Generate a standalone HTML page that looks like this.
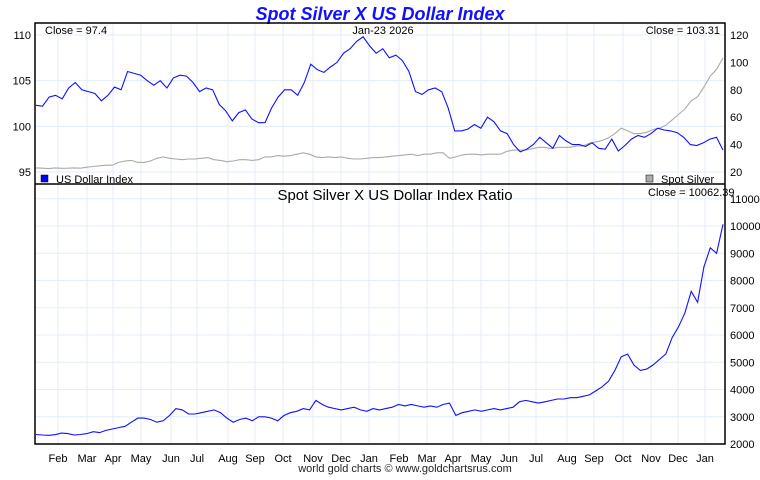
<!DOCTYPE html>
<html><head><meta charset="utf-8"><style>
body{margin:0;background:#fff;}
svg text{font-family:"Liberation Sans",sans-serif;}
</style></head><body>
<svg id="c" width="760" height="475" xmlns="http://www.w3.org/2000/svg">
<text x="380" y="20" text-anchor="middle" font-size="18" font-weight="bold" font-style="italic" fill="#1010ff">Spot Silver X US Dollar Index</text>
<g id="grid"></g>
<g id="series"></g>
<rect x="35" y="23" width="690" height="421" fill="none" stroke="#000" stroke-width="1.5"/>
<line x1="35" y1="184" x2="725" y2="184" stroke="#000" stroke-width="1.5"/>
<g id="axes" font-size="11"></g>
<text x="45" y="34" font-size="11">Close = 97.4</text>
<text x="383" y="34" font-size="11" text-anchor="middle">Jan-23  2026</text>
<text x="720" y="34" font-size="11" text-anchor="end">Close = 103.31</text>
<rect x="41" y="175" width="7" height="7" fill="#0000ff" stroke="#000" stroke-width="0.5"/>
<text x="56" y="183" font-size="11">US Dollar Index</text>
<rect x="646" y="175" width="7" height="7" fill="#aaa" stroke="#000" stroke-width="0.5"/>
<text x="661" y="183" font-size="11">Spot Silver</text>
<text x="395" y="200" font-size="15" text-anchor="middle">Spot Silver X US Dollar Index Ratio</text>
<text x="648" y="196" font-size="11">Close = 10062.39</text>
<text x="405" y="472" font-size="11" text-anchor="middle" fill="#222">world gold charts © www.goldchartsrus.com</text>
</svg>
<script>
const months=["Feb","Mar","Apr","May","Jun","Jul","Aug","Sep","Oct","Nov","Dec","Jan","Feb","Mar","Apr","May","Jun","Jul","Aug","Sep","Oct","Nov","Dec","Jan"];
const monthX=[58,87,113,141,171,197,228,255,283,313,341,369,399,427,453,481,509,536,567,594,623,651,678,705];
const leftTicks=[95,100,105,110];
const rightTicks=[20,40,60,80,100,120];
const ratioTicks=[2000,3000,4000,5000,6000,7000,8000,9000,10000,11000];
const dxy=[102.3,102.2,103.2,103.4,103.0,104.2,104.8,104.0,103.8,103.6,102.8,103.4,104.3,104.0,106.0,105.8,105.6,105.0,104.5,105.0,104.2,105.3,105.6,105.5,104.8,103.8,104.2,104.0,102.4,101.7,100.6,101.5,101.8,100.8,100.4,100.4,102.0,103.2,104.0,104.0,103.4,104.8,106.8,106.2,105.9,106.5,107.0,108.0,108.5,109.3,109.8,108.8,108.0,108.5,107.5,107.8,107.2,106.0,103.8,103.5,104.0,104.2,103.8,102.0,99.5,99.5,99.7,100.2,99.8,101.0,100.5,99.5,99.2,98.0,97.2,97.5,98.0,98.8,98.2,97.6,99.0,98.4,98.0,98.0,97.8,98.2,97.6,97.5,98.6,97.3,97.9,98.6,99.0,98.8,99.2,99.8,99.6,99.5,99.3,98.8,98.0,97.9,98.2,98.6,98.8,97.4];
const silver=[23,22.8,22.5,23,22.7,22.8,23,22.8,23.5,24,24.5,25,25,27,28,28.5,27,27,28,30,31,30,29.5,29,29.5,29.5,30,30.5,29,28.5,27.5,28,29,29,28.5,29,31,31,32,31.5,32,33,34,33,31,30.5,31,30.5,31,30,29.5,29.5,30,30.5,30.5,31,31.5,32,32.5,33,32,33,33,34,34,30,31,32.5,33,33,32.5,33,33,33,35,36,36,36,37,38,38,37,38,38,38,39,39,41,42,43,45,48,52,50,48,48,49,51,52,54,58,62,66,72,75,82,90,95,103.31];
const ratio=[2350,2330,2320,2340,2400,2380,2330,2350,2380,2450,2420,2500,2550,2600,2650,2800,2950,2950,2900,2800,2850,3050,3300,3250,3100,3100,3150,3200,3250,3150,2950,2800,2900,2950,2850,3000,3000,2950,2850,3050,3150,3200,3300,3250,3600,3450,3350,3300,3250,3300,3350,3250,3200,3300,3250,3300,3350,3450,3400,3450,3400,3350,3400,3350,3450,3500,3050,3150,3200,3250,3200,3250,3300,3250,3300,3350,3550,3600,3550,3500,3550,3600,3650,3650,3700,3700,3750,3800,3950,4100,4300,4700,5200,5300,4900,4700,4750,4900,5100,5300,5900,6300,6800,7600,7200,8500,9200,9000,10062];
const NS='http://www.w3.org/2000/svg';
const X0=35,X1=725;
function yL(v){return 35+(110-v)*137/15;}
function yR(v){return 35+(120-v)*1.37;}
function yB(v){return 226+(10000-v)*0.02725;}
function xi(i,n){return X0+1+i*(X1-X0-3)/(n-1);}
const grid=document.getElementById('grid'),ser=document.getElementById('series'),axes=document.getElementById('axes');
function mk(tag,attrs,parent){const e=document.createElementNS(NS,tag);for(const k in attrs)e.setAttribute(k,attrs[k]);parent.appendChild(e);return e;}
monthX.forEach((x,i)=>{
 const l=mk('line',{x1:x,y1:23,x2:x,y2:444,stroke:'#e2eef9','stroke-width':1},grid);
 
 
 const t=mk('text',{x:x,y:462,'text-anchor':'middle'},axes);t.textContent=months[i];
 
 
});
leftTicks.forEach(v=>{
 const l=mk('line',{x1:X0,y1:yL(v),x2:X1,y2:yL(v),stroke:'#e2eef9'},grid);
 
 
 const t=mk('text',{x:31,y:yL(v)+4,'text-anchor':'end'},axes);t.textContent=v;
 
 
});
rightTicks.forEach(v=>{
 const t=mk('text',{x:730,y:yR(v)+4},axes);t.textContent=v;
 
 
});
ratioTicks.forEach(v=>{
 const l=mk('line',{x1:X0,y1:yB(v),x2:X1,y2:yB(v),stroke:'#e2eef9'},grid);
 
 
 const t=mk('text',{x:730,y:yB(v)+4},axes);t.textContent=v;
 
 
});
function line(arr,yf,color,name){
 const d=arr.map((v,i)=>(i?'L':'M')+xi(i,arr.length).toFixed(1)+','+yf(v).toFixed(1)).join('');
 const p=mk('path',{d:d,fill:'none',stroke:color,'stroke-width':1.1},ser);
 
 
}
line(silver,yR,'#aaaaaa','silver-line');
line(dxy,yL,'#1010ff','dxy-line');
line(ratio,yB,'#1010ff','ratio-line');
</script>
</body></html>
